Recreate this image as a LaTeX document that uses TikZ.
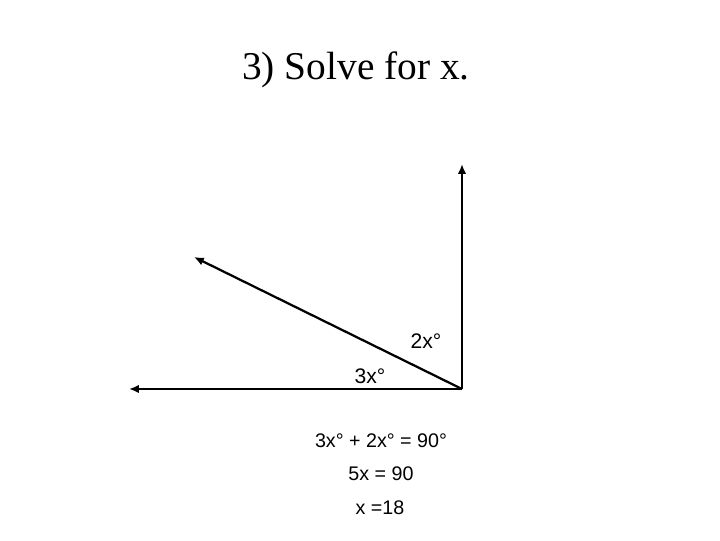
\documentclass[tikz,border=0pt]{standalone}
\usepackage{fontspec}
\setmainfont{Liberation Serif}
\setsansfont{Liberation Sans}
\usetikzlibrary{arrows.meta,positioning,calc}

\begin{document}
\begin{tikzpicture}[
  x=0.025cm, y=-0.025cm,
  ray/.style={line width=1.6pt, -{Latex[length=7pt,width=6pt]}},
  angle/.style={font=\sffamily\fontsize{15}{18}\selectfont},
  work/.style={font=\sffamily\fontsize{14}{17}\selectfont},
  >=Latex, thick
]
\useasboundingbox (0,0) rectangle (720,540);

% Title
\node[font=\fontsize{28}{34}\selectfont] (title) at (356,70) {3) Solve for x.};

% Vertex and ray ends
\coordinate (V) at (462,389);
\coordinate (up) at (462,164);
\coordinate (left) at (129,389);
\coordinate (slant) at (194,257);

% Rays
\draw[ray] (V) -- (up);
\draw[ray] (V) -- (left);
\draw[ray] (V) -- (slant);

% Angle labels
\node[angle] (a2) at (426,341) {2x\textdegree};
\node[angle] (a3) at (370,376) {3x\textdegree};

% Working
\node[work] (eq1) at (381,441) {3x\textdegree{} + 2x\textdegree{} = 90\textdegree};
\node[work] (eq2) at (381,474) {5x = 90};
\node[work] (eq3) at (380,508) {x =18};

\end{tikzpicture}
\end{document}
